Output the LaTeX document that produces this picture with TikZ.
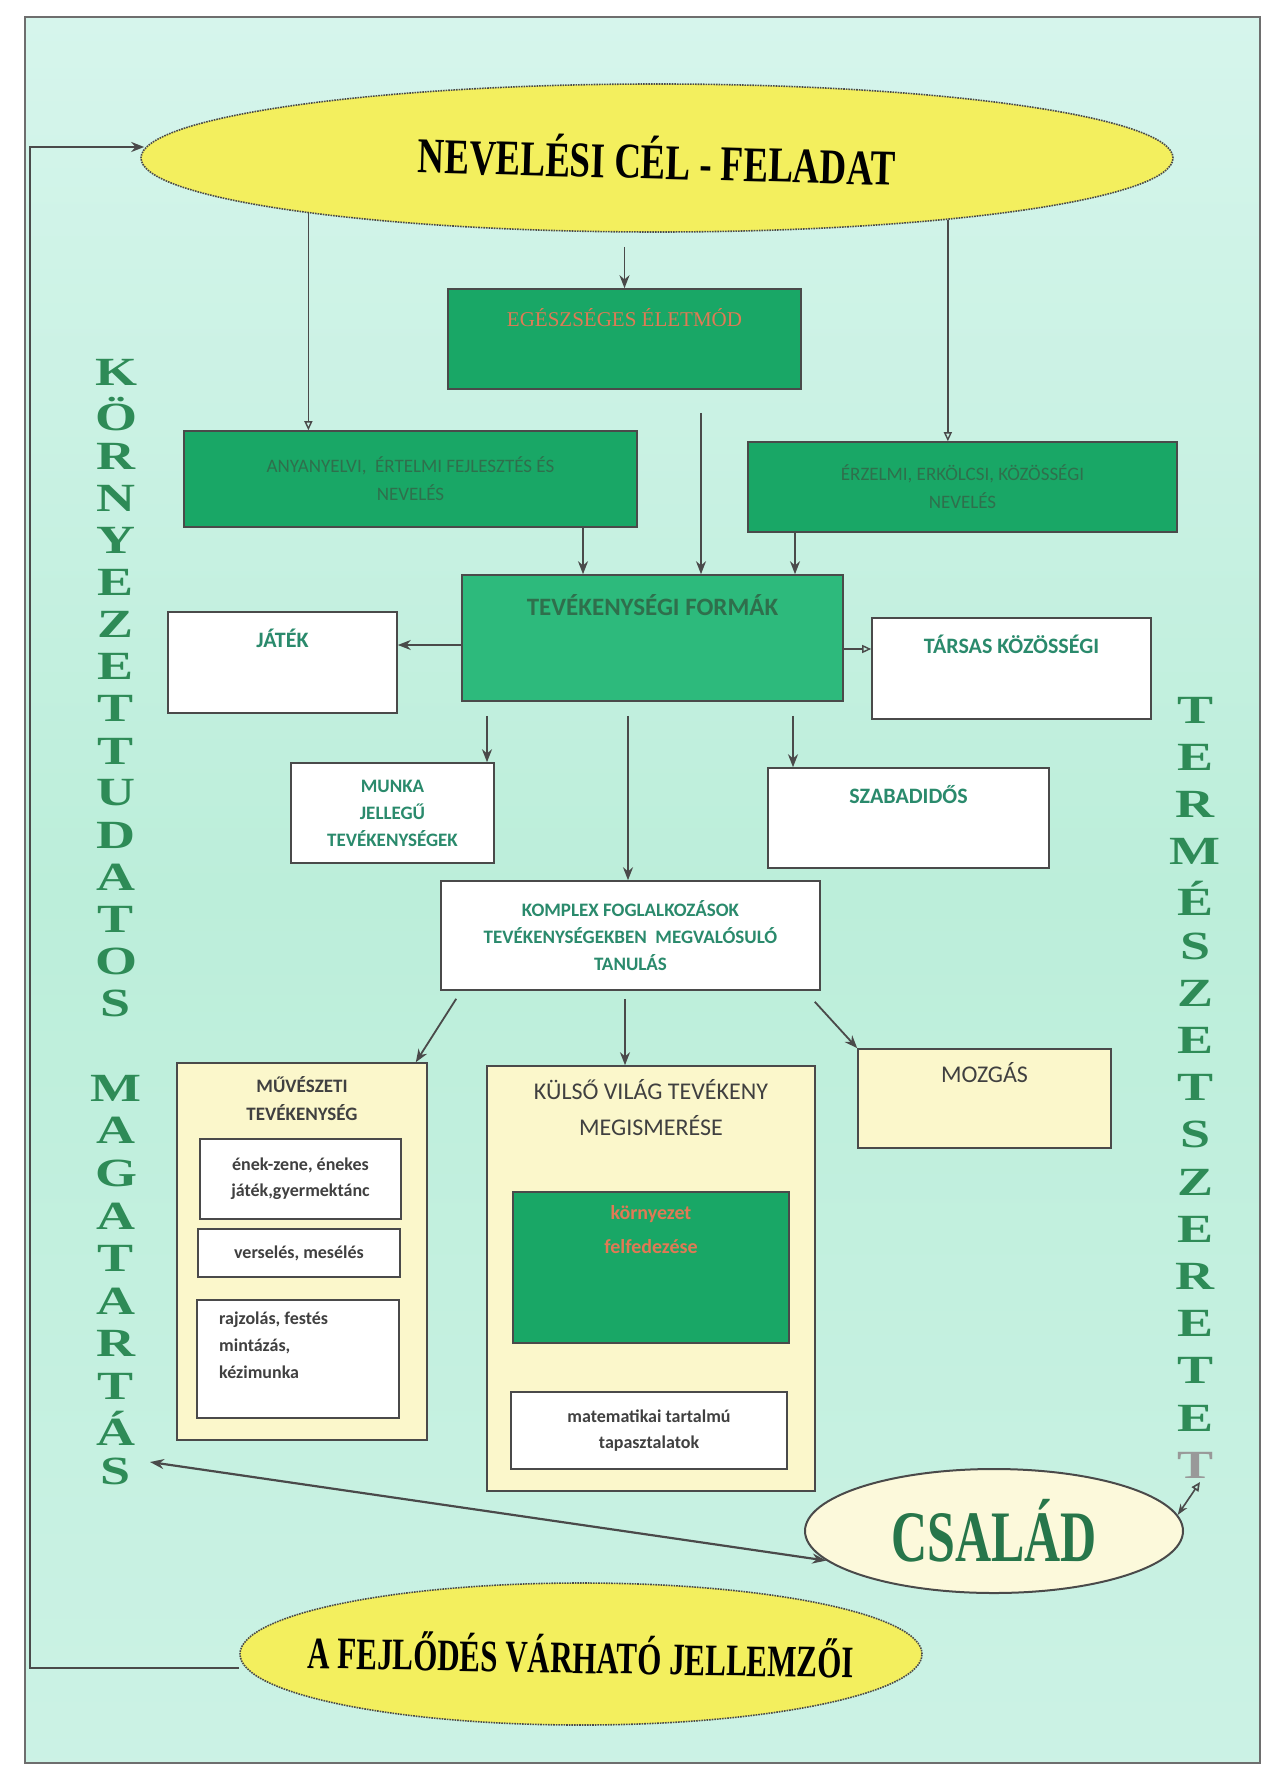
\documentclass[tikz,border=0pt]{standalone}
\usepackage{fontspec}
\setmainfont{Liberation Serif}
\newfontfamily\carl{Carlito}
\usetikzlibrary{arrows.meta,shapes.geometric}
\definecolor{mintA}{HTML}{D6F5EC}
\definecolor{mintB}{HTML}{BCEEDA}
\definecolor{yel}{HTML}{F3EF5E}
\definecolor{gbox}{HTML}{19A766}
\definecolor{gboxL}{HTML}{2DBA7C}
\definecolor{cream}{HTML}{FBF7CB}
\definecolor{edge}{HTML}{4A4A4A}
\definecolor{tealt}{HTML}{2A8A6C}
\definecolor{lettg}{HTML}{2E8B57}
\definecolor{redt}{HTML}{E07A55}
\definecolor{dgt}{HTML}{2F6F4C}
\begin{document}
\begin{tikzpicture}[x=1pt,y=-1pt,
  gbx/.style={rectangle,draw=edge,fill=gbox,line width=1.6pt,inner sep=0pt},
  wbx/.style={rectangle,draw=edge,fill=white,line width=1.6pt,inner sep=0pt},
  cbx/.style={rectangle,draw=edge,fill=cream,line width=1.6pt,inner sep=0pt},
  arr/.style={draw=edge,line width=1.8pt,-{Stealth[length=13pt,width=10pt]}},
  oarr/.style={draw=edge,line width=1.4pt,-{Triangle[open,length=9pt,width=8pt]}},
  tealtxt/.style={font=\carl\bfseries\fontsize{22}{26}\selectfont,text=tealt,align=center,inner sep=0pt},
  greytxt/.style={font=\carl\fontsize{24}{36}\selectfont,text=black!75,align=center,inner sep=0pt},
  smalltxt/.style={font=\carl\bfseries\fontsize{18}{26}\selectfont,text=black!75,inner sep=0pt},
  gtxt/.style={font=\carl\fontsize{19}{28}\selectfont,text=dgt,align=center,inner sep=0pt},
  vl/.style={font=\bfseries\fontsize{40}{40}\selectfont,text=lettg,inner sep=0pt},
  yell/.style={ellipse,fill=yel,draw=edge,densely dotted,line width=1.6pt,inner sep=0pt}
]
\useasboundingbox (0,0) rectangle (1265,1768);
\fill[white] (0,0) rectangle (1265,1768);
\shade[top color=mintA,bottom color=mintA!60!mintB,middle color=mintB] (25,17) rectangle (1260,1763);
\draw[edge!80,line width=1.5pt] (25,17) rectangle (1260,1763);

% ellipses
\node[yell,minimum width=1032pt,minimum height=148pt,
  label={[inner sep=0pt]center:\rotatebox{-1.5}{\scalebox{1}[1.35]{\bfseries\fontsize{37}{40}\selectfont NEVELÉSI CÉL - FELADAT}}}] (nev) at (657,158) {};
\node[yell,minimum width=682pt,minimum height=142pt,
  label={[inner sep=0pt]center:\rotatebox{-1}{\scalebox{1}[1.45]{\bfseries\fontsize{31}{34}\selectfont A FEJLŐDÉS VÁRHATÓ JELLEMZŐI}}}] (fejl) at (581,1654) {};
\node[ellipse,fill=cream!70!white,draw=edge,line width=2pt,inner sep=0pt,minimum width=378pt,minimum height=124pt,
  label={[inner sep=0pt]center:\scalebox{1}[1.45]{\bfseries\fontsize{50}{52}\selectfont\color{lettg!85!black}CSALÁD}}] (csalad) at (994,1531) {};

% green boxes
\node[gbx,minimum width=353pt,minimum height=100pt,
  label={[font=\fontsize{21}{24}\selectfont,text=redt,anchor=north,inner sep=0pt,yshift=-20pt]north:EGÉSZSÉGES ÉLETMÓD}] (egesz) at (624.5,339) {};
\node[gbx,minimum width=453pt,minimum height=96pt,gtxt] (anya) at (410.5,479)
  {ANYANYELVI, \ ÉRTELMI FEJLESZTÉS ÉS\\NEVELÉS};
\node[gbx,minimum width=429pt,minimum height=90pt,gtxt] (erz) at (962.5,487)
  {ÉRZELMI, ERKÖLCSI, KÖZÖSSÉGI\\NEVELÉS};
\node[gbx,fill=gboxL,minimum width=381pt,minimum height=126pt,
  label={[font=\carl\bfseries\fontsize{25}{28}\selectfont,text=dgt,anchor=north,inner sep=0pt,yshift=-20pt]north:TEVÉKENYSÉGI FORMÁK}] (tev) at (652.5,638) {};

% white boxes
\node[wbx,minimum width=229pt,minimum height=101pt,
  label={[tealtxt,anchor=north,yshift=-18pt]north:JÁTÉK}] (jatek) at (282.5,662.5) {};
\node[wbx,minimum width=279pt,minimum height=101pt,
  label={[tealtxt,anchor=north,yshift=-18pt]north:TÁRSAS KÖZÖSSÉGI}] (tarsas) at (1011.5,668.5) {};
\node[wbx,minimum width=203pt,minimum height=100pt,tealtxt,font=\carl\bfseries\fontsize{19}{27}\selectfont] (munka) at (392.5,813)
  {MUNKA\\JELLEGŰ\\TEVÉKENYSÉGEK};
\node[wbx,minimum width=281pt,minimum height=100pt,
  label={[tealtxt,anchor=north,yshift=-18pt]north:SZABADIDŐS}] (szabad) at (908.5,818) {};
\node[wbx,minimum width=379pt,minimum height=109pt,tealtxt,font=\carl\bfseries\fontsize{19}{27}\selectfont] (komplex) at (630.5,935.5)
  {KOMPLEX FOGLALKOZÁSOK\\TEVÉKENYSÉGEKBEN \ MEGVALÓSULÓ\\TANULÁS};

% cream boxes
\node[cbx,minimum width=250pt,minimum height=377pt,
  label={[font=\carl\bfseries\fontsize{19}{28}\selectfont,text=black!75,align=center,anchor=north,inner sep=0pt,yshift=-14pt]north:MŰVÉSZETI\\TEVÉKENYSÉG}] (muv) at (302,1251.5) {};
\node[cbx,minimum width=328pt,minimum height=425pt,
  label={[greytxt,anchor=north,yshift=-14pt]north:KÜLSŐ VILÁG TEVÉKENY\\MEGISMERÉSE}] (kulso) at (651,1278.5) {};
\node[cbx,minimum width=253pt,minimum height=99pt,
  label={[greytxt,anchor=north,yshift=-14pt]north:MOZGÁS}] (mozg) at (984.5,1098.5) {};

% sub boxes
\node[wbx,minimum width=201pt,minimum height=80pt,smalltxt,align=center] (suba) at (300.5,1179)
  {ének-zene, énekes\\játék,gyermektánc};
\node[wbx,minimum width=202pt,minimum height=48pt,smalltxt] (subb) at (299,1253) {verselés, mesélés};
\node[wbx,minimum width=202pt,minimum height=118pt] (subc) at (298,1359) {};
\node[smalltxt,align=left,anchor=north west,font=\carl\bfseries\fontsize{18}{27}\selectfont] (subctxt) at (219,1312)
  {rajzolás, festés\\mintázás,\\kézimunka};
\node[gbx,minimum width=276pt,minimum height=151pt,
  label={[font=\carl\bfseries\fontsize{20}{34}\selectfont,text=redt,align=center,anchor=north,inner sep=0pt,yshift=-14pt]north:környezet\\felfedezése}] (korny) at (651,1267.5) {};
\node[wbx,minimum width=276pt,minimum height=77pt,smalltxt,align=center] (mat) at (649,1430.5)
  {matematikai tartalmú\\tapasztalatok};

% vertical words
\foreach \l [count=\i] in {K,Ö,R,N,Y,E,Z,E,T,T,U,D,A,T,O,S}
  \node[vl] (kw\i) at (116,{372+(\i-1)*42.1}) {\scalebox{1.35}[1]{\l}};
\foreach \l [count=\i] in {M,A,G,A,T,A,R,T,Á,S}
  \node[vl] (mw\i) at (116,{1088+(\i-1)*42.6}) {\scalebox{1.35}[1]{\l}};
\foreach \l [count=\i] in {T,E,R,M,É,S,Z,E,T,S,Z,E,R,E,T,E}
  \node[vl] (tw\i) at (1195,{710+(\i-1)*47.2}) {\scalebox{1.35}[1]{\l}};
\node[vl,text=gray!80] (tw17) at (1195,1465) {\scalebox{1.35}[1]{T}};

% connectors
\draw[oarr] (nev.189.8) -- (nev.189.8 |- anya.north);
\draw[oarr] (nev.348.9) -- (nev.348.9 |- erz.north);
\draw[arr] ([yshift=-14pt]egesz.north |- nev.south) -- (egesz.north);
\draw[arr] (anya.south -| 583,0) -- (tev.north -| 583,0);
\draw[arr] ([yshift=-23pt]egesz.south -| 701,0) -- (tev.north -| 701,0);
\draw[arr] (erz.south -| 795,0) -- (tev.north -| 795,0);
\draw[arr] (tev.west |- 0,645) -- (jatek.east |- 0,645);
\draw[oarr] (tev.east |- 0,649) -- (tarsas.west |- 0,649);
\draw[arr] ([yshift=-14pt]tev.south -| 487,0) -- (munka.north -| 487,0);
\draw[arr] ([yshift=-14pt]tev.south -| 628,0) -- (komplex.north -| 628,0);
\draw[arr] ([yshift=-14pt]tev.south -| 793,0) -- (szabad.north -| 793,0);
\draw[arr] ([xshift=16pt,yshift=-8pt]komplex.south west) -- ([xshift=-12pt]muv.north east);
\draw[arr] ([yshift=-8pt]komplex.south -| 625,0) -- (kulso.north -| 625,0);
\draw[arr] ([xshift=-6pt,yshift=-11pt]komplex.south east) -- (mozg.north west);
\coordinate (dl) at (150,1462);
\draw[draw=edge,line width=2.2pt,{Stealth[length=14pt,width=10pt]}-{Stealth[length=14pt,width=10pt]}] (dl) -- (csalad.190.6);
\coordinate (tt) at (1200,1482);
\draw[draw=edge,line width=1.6pt,{Triangle[open,length=9pt,width=8pt]}-{Stealth[length=11pt,width=8pt]}] (tt) -- (csalad.5.6);
\coordinate (fbc) at (30,900);
\draw[arr,line width=2.4pt] ([yshift=-14pt]fejl.west) -| (fbc) |- ([yshift=11pt,xshift=4pt]nev.west);
\end{tikzpicture}
\end{document}
